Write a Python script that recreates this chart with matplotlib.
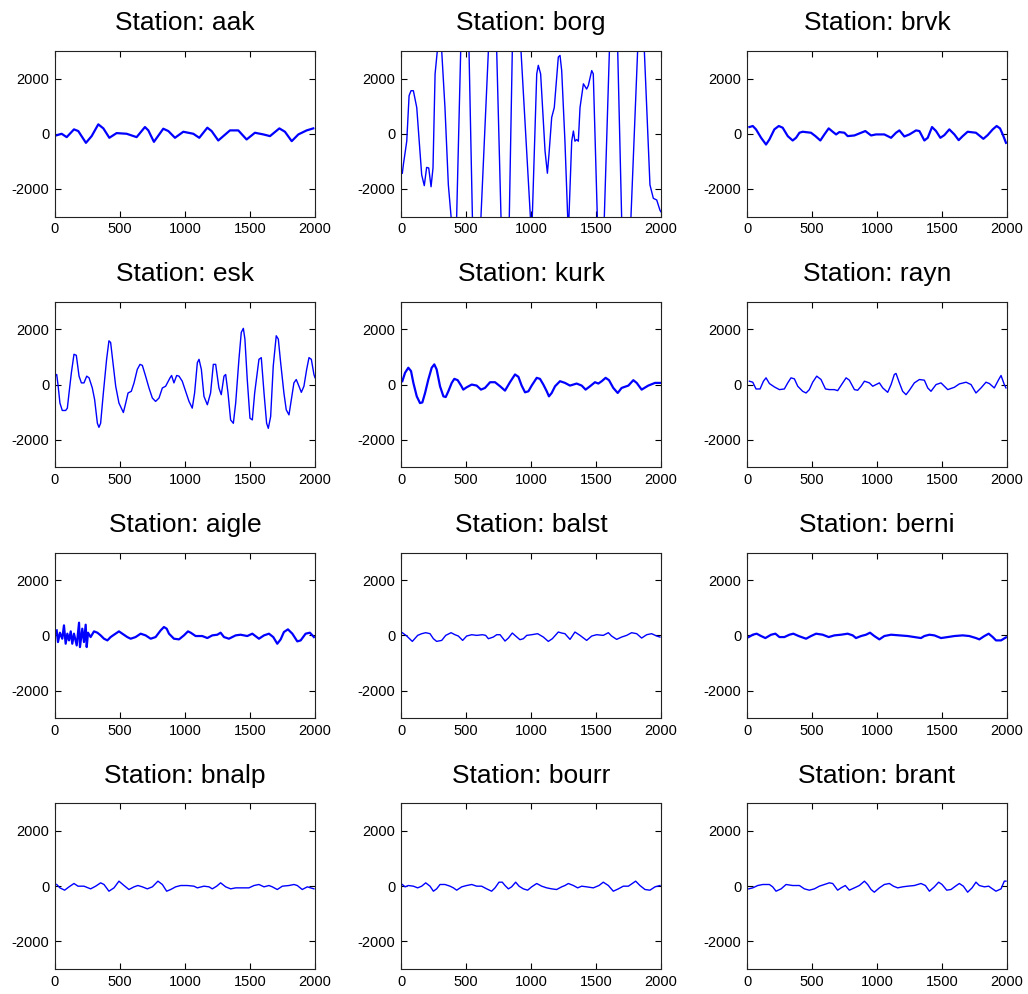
import numpy as np
import matplotlib
matplotlib.use("Agg")
import matplotlib.pyplot as plt

plt.rcParams['font.family'] = ['Liberation Sans', 'DejaVu Sans']
plt.rcParams['axes.unicode_minus'] = False

# station names, row by row
stations = ["aak", "borg", "brvk", "esk", "kurk", "rayn",
            "aigle", "balst", "berni", "bnalp", "bourr", "brant"]

# traces (sample index, amplitude)
aak_x = [8, 51, 90, 146, 179, 238, 282, 333, 372, 418, 474, 551, 628, 692, 718, 761, 833, 872, 923, 987,
         1064, 1110, 1172, 1205, 1256, 1346, 1410, 1474, 1538, 1603, 1654, 1726, 1769, 1821, 1872, 1936, 1987]
aak_y = [-61, 0, -122, 159, 98, -329, -85, 342, 195, -146, 24, 0, -122, 244, 122, -293, 183, 98, -146, 73,
         0, -146, 220, 98, -244, 122, 122, -207, 37, -24, -85, 195, 73, -268, -24, 122, 195]

borg_x = [10, 18, 44, 62, 77, 95, 121, 138, 159, 179, 197, 213, 231, 246, 262, 279, 296, 313, 338, 364,
          385, 406, 428, 459, 491, 523, 549, 582, 615, 672, 704, 736, 769, 801, 833, 856, 890, 923, 995,
          1002, 1010, 1044, 1056, 1074, 1108, 1126, 1138, 1159, 1179, 1210, 1223, 1236, 1261, 1282, 1287,
          1292, 1313, 1326, 1338, 1351, 1364, 1377, 1403, 1428, 1441, 1467, 1479, 1510, 1537, 1564, 1603,
          1635, 1667, 1697, 1733, 1769, 1820, 1838, 1872, 1915, 1941, 1967, 1992, 2000]
borg_y = [-1430, -1120, -270, 1380, 1560, 1560, 950, -150, -1490, -1880, -1220, -1240, -1920, -1240, 2170,
          3000, 4500, 3000, 950, -1850, -3000, -4500, -3000, 3000, 5500, 3000, -3000, -5500, -3000, 3000,
          5500, 3000, -3000, -5000, -3000, 3000, 5000, 3000, -3000, -3400, -3000, 2170, 2480, 2170, -630,
          -1430, -760, 590, 950, 2780, 2840, 2290, -270, -3000, -3300, -3000, -270, 100, -270, -210, -270,
          950, 1810, 1620, 1750, 2290, 2170, -3000, -4500, -3000, 3000, 5000, 3000, -3000, -5500, -3000,
          2990, 3050, 2990, -1850, -2340, -2400, -2770, -2830]

brvk_x = [18, 44, 69, 108, 146, 172, 210, 244, 274, 313, 351, 377, 403, 428, 492, 526, 564, 595, 628, 659,
          685, 710, 749, 774, 826, 864, 910, 954, 992, 1056, 1108, 1146, 1172, 1210, 1249, 1300, 1326, 1364,
          1390, 1423, 1454, 1487, 1518, 1556, 1595, 1628, 1659, 1697, 1761, 1818, 1851, 1890, 1920, 1946,
          1967, 1992]
brvk_y = [244, 281, 159, -146, -390, -207, 159, 281, 220, -85, -244, -146, 37, 73, 37, -85, -244, -24, 195,
          73, -24, 61, 37, -85, -61, 12, 98, -61, -24, -24, -146, 37, 122, -98, -24, 122, 98, -244, -146,
          244, 98, -146, -49, 159, -24, -232, -85, 73, 37, -183, -49, 159, 281, 195, -24, -329]

esk_x = [0, 13, 23, 38, 56, 82, 95, 108, 126, 146, 164, 185, 203, 223, 244, 262, 287, 305, 326, 338, 351,
         372, 397, 415, 428, 449, 467, 492, 526, 544, 562, 587, 608, 633, 654, 672, 697, 723, 749, 774, 800,
         826, 851, 885, 897, 915, 936, 954, 979, 1005, 1031, 1056, 1074, 1095, 1108, 1126, 1146, 1172, 1197,
         1218, 1236, 1261, 1279, 1300, 1313, 1331, 1351, 1372, 1390, 1415, 1433, 1449, 1461, 1479, 1500,
         1518, 1536, 1569, 1587, 1608, 1628, 1641, 1659, 1679, 1702, 1718, 1736, 1761, 1779, 1800, 1818,
         1838, 1856, 1877, 1895, 1915, 1936, 1954, 1972, 1992, 2000]
esk_y = [300, 366, 0, -671, -939, -939, -854, -305, 427, 1098, 1061, 305, 61, 61, 305, 244, -122, -549, -1403,
         -1549, -1403, -305, 915, 1586, 1525, 671, -61, -671, -1013, -671, -305, -244, 61, 549, 732, 695,
         305, -122, -488, -610, -488, -122, -61, 244, 329, 61, 329, 305, 122, -244, -610, -854, -305, 793,
         915, 549, -427, -732, -305, 732, 732, -122, -366, 305, 366, -305, -1281, -1403, -671, 915, 1891,
         2037, 1647, 183, -1220, -1281, -305, 915, 976, -305, -1403, -1586, -1159, 671, 1769, 1647, 793,
         -305, -915, -1098, -549, 61, 183, -61, -281, -61, 549, 976, 915, 366, 250]

kurk_x = [10, 31, 56, 77, 95, 121, 146, 164, 185, 210, 236, 256, 274, 300, 326, 344, 364, 390, 410, 436, 462,
          479, 505, 544, 582, 615, 646, 685, 723, 762, 800, 838, 877, 903, 928, 954, 980, 1005, 1044, 1069,
          1095, 1121, 1138, 1159, 1185, 1223, 1261, 1300, 1351, 1390, 1420, 1454, 1492, 1518, 1544, 1574,
          1600, 1633, 1667, 1697, 1749, 1787, 1813, 1851, 1902, 1954, 1992]
kurk_y = [122, 427, 610, 488, 61, -427, -671, -647, -305, 183, 610, 732, 549, -61, -427, -451, -244, 61, 207,
          159, -37, -183, -98, 0, -37, -183, -122, 85, 85, -61, -220, 85, 366, 281, -37, -281, -244, -37, 244,
          207, 0, -244, -427, -305, -61, 122, 61, -37, 37, -37, -183, -61, 85, 37, 122, 244, 159, -122, -305,
          -122, -37, 159, 61, -183, -37, 61, 61]

rayn_x = [18, 44, 69, 100, 126, 146, 172, 210, 249, 287, 313, 338, 364, 390, 428, 454, 479, 505, 536, 569,
          603, 633, 672, 697, 736, 762, 787, 826, 851, 877, 903, 941, 967, 992, 1018, 1044, 1082, 1108, 1133,
          1146, 1172, 1197, 1223, 1249, 1287, 1326, 1364, 1390, 1415, 1454, 1492, 1544, 1595, 1633, 1685,
          1723, 1761, 1800, 1838, 1864, 1902, 1936, 1954, 1979, 1992]
rayn_y = [122, 85, -159, -159, 122, 244, 37, -85, -183, -159, 61, 244, 207, -61, -244, -305, -183, 85, 305,
          183, -159, -183, -183, -220, 61, 244, 159, -183, -207, -61, 122, 61, -61, 0, 61, -122, -281, 0,
          366, 403, 61, -244, -366, -207, 61, 183, 159, -122, -244, 0, 61, -183, -98, 24, 85, 0, -305, -122,
          85, 37, -122, 183, 329, 0, -122]

aigle_x = [13, 23, 38, 56, 69, 82, 95, 108, 121, 133, 146, 167, 185, 192, 210, 223, 236, 244, 254, 274, 300,
           326, 351, 377, 403, 428, 454, 492, 518, 556, 582, 620, 659, 697, 736, 774, 813, 838, 859, 877, 915,
           954, 992, 1023, 1044, 1082, 1133, 1172, 1210, 1249, 1274, 1300, 1338, 1390, 1428, 1479, 1518,
           1569, 1608, 1646, 1679, 1710, 1736, 1761, 1792, 1826, 1864, 1890, 1928, 1961, 1992]
aigle_y = [182, -242, 97, -121, 363, -303, 61, -182, 145, -303, 61, -363, 460, -424, 242, -242, 387, -424, 97,
           -61, 145, 97, 0, -121, -182, -61, 24, 145, 61, -61, -121, -61, 61, 0, -121, -61, 182, 303, 242,
           61, -121, -145, 0, 145, 97, -24, -24, -97, 0, 24, 97, -61, -121, 0, 24, -24, 61, -121, 0, 61, -61,
           -303, -145, 121, 218, 61, -218, -182, 61, 97, -61]

balst_x = [10, 44, 87, 128, 159, 190, 223, 249, 274, 313, 344, 385, 415, 441, 474, 505, 544, 582, 626, 651,
           672, 710, 736, 762, 800, 826, 856, 882, 915, 941, 967, 1005, 1051, 1095, 1133, 1164, 1210, 1236,
           1261, 1300, 1338, 1377, 1428, 1467, 1505, 1556, 1595, 1620, 1659, 1697, 1736, 1774, 1813, 1851,
           1890, 1928, 1967, 1992]
balst_y = [97, -24, -218, 0, 61, 97, 61, -121, -218, -182, 0, 97, 24, -24, -182, -24, 24, 0, 24, 0, -121,
           -61, 24, 24, -206, -97, 85, -24, -157, -121, 0, 24, 61, -61, -218, -121, 121, 85, 61, -145, 121, 0,
           -182, -24, 24, 0, 97, -24, -145, -61, 0, 97, 61, -97, 24, 61, -24, -61]

berni_x = [13, 44, 74, 108, 141, 185, 218, 249, 287, 326, 356, 397, 454, 492, 531, 582, 628, 672, 723, 774,
           813, 838, 877, 915, 946, 979, 1018, 1056, 1108, 1172, 1236, 1287, 1338, 1364, 1403, 1441, 1492,
           1544, 1595, 1659, 1710, 1761, 1787, 1826, 1859, 1890, 1915, 1954, 1992]
berni_y = [-61, 24, 61, -24, -97, 24, 61, -61, -61, 24, 61, -24, -121, -24, 61, 24, -61, 0, 24, 61, 0, -97,
           -24, 24, 97, -24, -145, -24, 24, 0, -24, -61, -97, -24, 24, 0, -97, -61, -24, 0, -24, -97, -145,
           -24, 61, -61, -182, -182, -73]

bnalp_x = [13, 38, 74, 108, 146, 177, 223, 274, 313, 351, 377, 415, 454, 492, 531, 569, 608, 638, 672, 710,
           749, 792, 826, 859, 890, 928, 967, 1018, 1069, 1095, 1146, 1185, 1210, 1244, 1274, 1313, 1351,
           1390, 1441, 1492, 1531, 1569, 1608, 1646, 1672, 1710, 1749, 1800, 1838, 1864, 1902, 1941, 1992]
bnalp_y = [61, -61, -145, -24, 97, 0, 0, -97, 0, 121, 61, -182, -61, 182, 24, -121, -24, 24, -24, -97, -24,
           182, 61, -182, -121, -24, 24, 24, 0, -61, 0, -24, -97, 0, 121, -24, -97, -61, -61, -61, 24, 61,
           -24, 24, -24, -121, 0, 24, 61, 24, -121, -24, -97]

bourr_x = [10, 31, 56, 95, 128, 159, 190, 223, 249, 274, 300, 338, 377, 403, 428, 467, 505, 544, 582, 620,
           659, 697, 723, 754, 779, 800, 826, 851, 882, 908, 941, 974, 1005, 1044, 1082, 1121, 1159, 1197,
           1236, 1261, 1287, 1326, 1359, 1390, 1428, 1479, 1523, 1556, 1595, 1633, 1672, 1710, 1749, 1779,
           1805, 1838, 1877, 1915, 1954, 1992]
bourr_y = [61, -24, 24, 0, -61, 0, 121, 0, -182, -97, 61, 61, 0, -61, -145, -24, 24, 61, 0, 0, -97, -182,
           -61, 145, 145, 24, -97, -24, 145, 0, -97, -145, -24, 97, 0, -61, -97, -121, -24, 24, 97, 24, -61,
           0, -24, -61, 24, 145, 24, -182, -97, 0, 0, 97, 182, 24, -121, -145, -24, 24]

brant_x = [13, 44, 82, 121, 172, 197, 223, 262, 300, 351, 403, 441, 479, 518, 556, 595, 633, 659, 697, 723,
           756, 787, 826, 864, 903, 928, 954, 979, 1018, 1056, 1095, 1126, 1159, 1197, 1236, 1287, 1338, 1372,
           1403, 1441, 1474, 1500, 1536, 1569, 1603, 1633, 1664, 1697, 1731, 1761, 1787, 1826, 1859, 1877,
           1915, 1954, 1979, 1992]
brant_y = [-97, -61, 24, 61, 61, -24, -182, -97, 61, 24, 24, -97, -145, -97, 0, 61, 121, 97, -145, -61, 24,
           -145, -61, 24, 182, 61, -121, -218, -61, 61, 97, 0, -61, -24, 0, 24, 97, 24, -182, -24, 145, 61,
           -145, -121, 0, 97, 0, -218, -61, 145, 24, -24, 0, -61, -182, -97, 182, 182]

traces = [(aak_x, aak_y), (borg_x, borg_y), (brvk_x, brvk_y), (esk_x, esk_y),
          (kurk_x, kurk_y), (rayn_x, rayn_y), (aigle_x, aigle_y), (balst_x, balst_y),
          (berni_x, berni_y), (bnalp_x, bnalp_y), (bourr_x, bourr_y), (brant_x, brant_y)]

# the noisy records look heavier in the original
noisy = {"aak", "kurk", "aigle", "berni", "brvk"}

fig, axes = plt.subplots(4, 3, figsize=(10.28, 9.94), dpi=100)
fig.subplots_adjust(left=0.0535, right=0.9796, top=0.9487, bottom=0.0252,
                    wspace=0.331, hspace=0.515)

for ax, name, (tx, ty) in zip(axes.flat, stations, traces):
    lw = 1.6 if name in noisy else 1.0
    ax.plot(tx, ty, color="#0000ff", linewidth=lw)
    ax.set_xlim(0, 2000)
    ax.set_ylim(-3000, 3000)
    ax.set_xticks([0, 500, 1000, 1500, 2000])
    ax.set_yticks([-2000, 0, 2000])
    ax.tick_params(direction="in", top=True, right=True, length=4, labelsize=10.5, pad=4)
    for sp in ax.spines.values():
        sp.set_color("#222222")
        sp.set_linewidth(0.8)
    ax.set_title("Station: " + name, fontsize=19, pad=15)

fig.savefig("out.png", dpi=100)
